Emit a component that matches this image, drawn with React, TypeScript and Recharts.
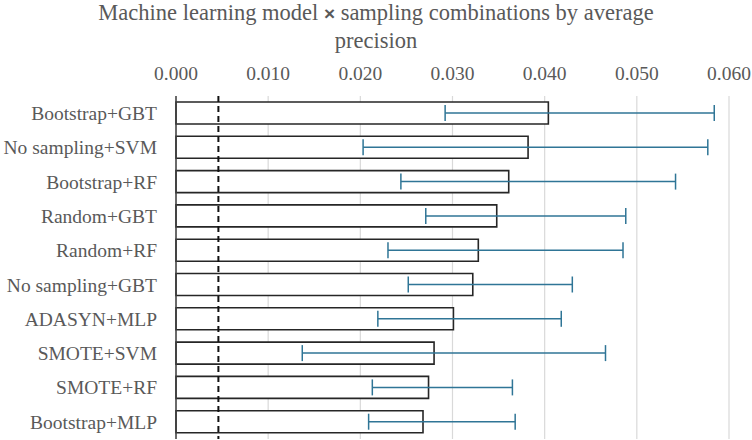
import { Bar, BarChart, CartesianGrid, ErrorBar, ReferenceLine, XAxis, YAxis } from "recharts";

const combos = [
  "Bootstrap+GBT",
  "No sampling+SVM",
  "Bootstrap+RF",
  "Random+GBT",
  "Random+RF",
  "No sampling+GBT",
  "ADASYN+MLP",
  "SMOTE+SVM",
  "SMOTE+RF",
  "Bootstrap+MLP"
];
const avgPrecision = [0.0404, 0.0382, 0.0361, 0.0348, 0.0328, 0.0322, 0.0301, 0.028, 0.0274, 0.0268];
const ciLow = [0.0292, 0.0203, 0.0244, 0.0271, 0.023, 0.0252, 0.0219, 0.0137, 0.0213, 0.0209];
const ciHigh = [0.0584, 0.0577, 0.0542, 0.0488, 0.0485, 0.043, 0.0418, 0.0466, 0.0365, 0.0368];
const xTicks = [0, 0.01, 0.02, 0.03, 0.04, 0.05, 0.06];
const baseline = 0.0046;

const data = combos.map((name, i) => ({
  name,
  ap: avgPrecision[i],
  err: [avgPrecision[i] - ciLow[i], ciHigh[i] - avgPrecision[i]]
}));

const font = "'Liberation Serif', 'Times New Roman', serif";
const grey = "#595959";

export default function App() {
  return (
    <div style={{ position: "absolute", left: 0, top: 0, width: 752, height: 440, fontFamily: font }}>
      <div
        style={{
          position: "absolute",
          left: 0,
          top: -1,
          width: 752,
          textAlign: "center",
          fontSize: 22.5,
          lineHeight: "27px",
          color: grey,
          zIndex: 1
        }}
      >
        Machine learning model{" "}
        <span style={{ fontFamily: "'Liberation Sans', sans-serif", fontWeight: "bold", fontSize: 19 }}>×</span>{" "}
        sampling combinations by average
        <br />
        precision
      </div>
      <BarChart
        width={752}
        height={440}
        data={data}
        layout="vertical"
        margin={{ top: 66, right: 23, bottom: 1, left: 6 }}
      >
        <CartesianGrid horizontal={false} stroke="#d9d9d9" strokeWidth={1.2} />
        <XAxis
          type="number"
          orientation="top"
          domain={[0, 0.06]}
          ticks={xTicks}
          tickFormatter={(v: number) => v.toFixed(3)}
          axisLine={false}
          tickLine={false}
          height={30}
          tickMargin={10}
          tick={{ fontSize: 19.5, fill: grey, fontFamily: font }}
        />
        <YAxis
          type="category"
          dataKey="name"
          width={170}
          tickLine={false}
          tickMargin={13}
          axisLine={{ stroke: "#404040", strokeWidth: 1.5 }}
          tick={{ fontSize: 19.5, fill: grey, fontFamily: font }}
        />
        <Bar dataKey="ap" fill="#ffffff" stroke="#262626" strokeWidth={1.6} barSize={22} isAnimationActive={false}>
          <ErrorBar dataKey="err" direction="x" width={8} stroke="#2f7596" strokeWidth={1.5} />
        </Bar>
        <ReferenceLine x={baseline} stroke="#111111" strokeWidth={2} strokeDasharray="6 4" />
      </BarChart>
    </div>
  );
}
